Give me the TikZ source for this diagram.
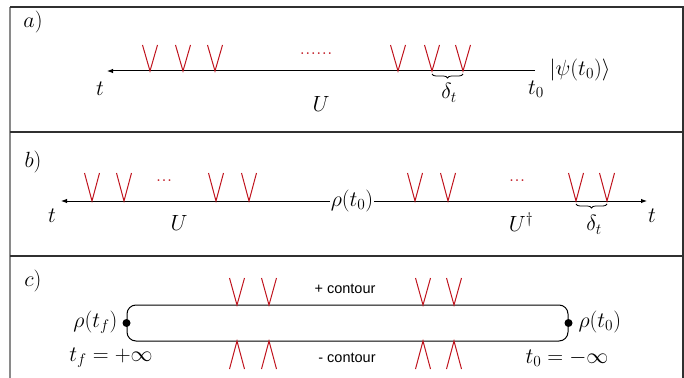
\RequirePackage{fix-cm}
\documentclass[tikz,border=0pt]{standalone}
\usepackage{fontspec}
\setsansfont{Liberation Sans}
\usepackage{xcolor}
\usetikzlibrary{arrows.meta,decorations.pathreplacing}
\definecolor{vred}{HTML}{C0141E}
\definecolor{frame}{HTML}{303030}
\definecolor{edge}{HTML}{8A8A8A}

\begin{document}
\begin{tikzpicture}[x=1pt,y=-1pt,font=\fontsize{22}{26}\selectfont,>={Latex[length=6pt,width=4.5pt]}]
\tikzset{vee/.style={draw=vred,line width=1pt}, ax/.style={->,line width=1pt}, br/.style={decorate,decoration={brace,amplitude=4pt,mirror},line width=0.8pt}, ct/.style={font=\fontsize{14.5}{17}\sffamily}, reddots/.style={text=vred,font=\fontsize{22}{26}\selectfont}}
\useasboundingbox (0,0) rectangle (684,377);
% frame
\draw[edge,line width=1.4pt] (10,7) -- (10,380);
\draw[frame,line width=1.4pt] (10,7) -- (683,7) -- (683,380);
\draw[frame,line width=1.4pt] (10,132) -- (683,132) (10,256) -- (683,256);
% a) state evolution
\node (la) at (33,22) {$a)$};
\coordinate (a0) at (535,71); \coordinate (a1) at (107,71);
\draw[ax] (a0) -- (a1);
\foreach \x in {150,183,215,398,432,463} \draw[vee] (\x-7.5,45) -- (\x,71) -- (\x+7.5,45);
\node[reddots] (dota) at (316,54) {......};
\draw[br] (432,74) -- (463,74);
\node (dela) at (449,93) {$\delta_t$};
\node (ta) at (100,89) {$t$};
\node (t0a) at (536,89) {$t_0$};
\node (ua) at (321,104) {$U$};
\node[anchor=west] (psi) at (546,70) {$|\psi(t_0)\rangle$};
% b) density matrix
\node (lb) at (33,162) {$b)$};
\node[inner sep=1pt] (rho) at (352,201) {$\rho(t_0)$};
\coordinate (bl) at (61,201); \coordinate (br) at (647,201);
\draw[ax] (rho.west) -- (bl); \draw[ax] (rho.east) -- (br);
\foreach \x in {92,124,216,249,415,448,576,607} \draw[vee] (\x-7.5,173) -- (\x,201) -- (\x+7.5,173);
\node[reddots] (dotb1) at (164,181) {...};
\node[reddots] (dotb2) at (517,181) {...};
\draw[br] (576,204) -- (607,204);
\node (delb) at (594,225) {$\delta_t$};
\node (tb1) at (52,216) {$t$};
\node (ub) at (179,223) {$U$};
\node (udb) at (521,222) {$U^\dagger$};
\node (tb2) at (652,216) {$t$};
% c) closed time contour
\node (lc) at (33,281) {$c)$};
\node[draw,line width=1pt,rounded corners=9pt,minimum width=441pt,minimum height=36pt] (loop) at (347.5,323) {};
\fill (loop.west) circle (4pt); \fill (loop.east) circle (4pt);
\node[anchor=east] (rhof) at (121,322) {$\rho(t_f)$};
\node[anchor=west] (rho0) at (575,322) {$\rho(t_0)$};
\foreach \x in {237,269,423,454} {\draw[vee] (\x-7.5,278) -- (\x,305) -- (\x+7.5,278); \draw[vee] (\x-7.5,369) -- (\x,341) -- (\x+7.5,369);}
\node[ct] (plus) at (345,289) {+ contour};
\node[ct] (minus) at (347,358) {- contour};
\node (tf) at (111,358) {$t_f=+\infty$};
\node (t0c) at (567,358) {$t_0=-\infty$};
\end{tikzpicture}
\end{document}
